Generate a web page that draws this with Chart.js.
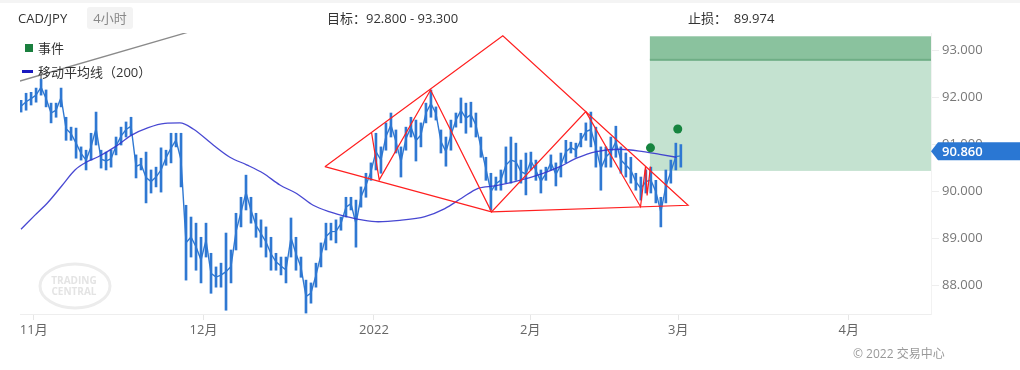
<!DOCTYPE html>
<html>
<head>
<meta charset="utf-8">
<script src="https://cdn.jsdelivr.net/npm/chart.js@4.4.1/dist/chart.umd.min.js"></script>
<style>
  body { margin: 0; background: #fff; font-family: "Open Sans", "Noto Sans CJK SC", sans-serif; }
  #wrap { position: relative; width: 1020px; height: 370px; overflow: hidden; }
  #topband { position: absolute; left: 0; top: 0; width: 1020px; height: 3px; background: #f4f4f4; }
  .txt { position: absolute; font-size: 13px; color: #333; white-space: nowrap; line-height: 16px; }
  #period { position: absolute; left: 87px; top: 7px; width: 46px; height: 22px; background: #f3f3f3;
            border-radius: 3px; color: #888; font-size: 13px; line-height: 22px; text-align: center; }
  .sq { position: absolute; left: 25px; top: 44px; width: 8px; height: 8px; background: #1a7f3e; }
  .dash { position: absolute; left: 22px; top: 70px; width: 11px; height: 3px; background: #1a1ac0; }
  canvas { position: absolute; left: 0; top: 0; }
</style>
</head>
<body>
<div id="wrap">
  <canvas id="c" width="1020" height="370"></canvas>
  <div id="topband"></div>
  <div class="txt" style="left:18px;top:10px;">CAD/JPY</div>
  <div id="period">4小时</div>
  <div class="txt" style="left:327px;top:10px;">目标：92.800 - 93.300</div>
  <div class="txt" style="left:688px;top:10px;">止损：&nbsp;&nbsp;89.974</div>
  <div class="sq"></div>
  <div class="txt" style="left:38px;top:40px;">事件</div>
  <div class="dash"></div>
  <div class="txt" style="left:38px;top:64px;">移动平均线（200）</div>
  <div class="txt" style="left:853px;top:346px;color:#999;font-size:12px;">© 2022 交易中心</div>
</div>
<script>
// x unit = trading days counted from 1 Nov 2021
const monthTicks = [0, 22.7, 45.5, 66.4, 86.2, 109];
const monthLabels = ['11月', '12月', '2022', '2月', '3月', '4月'];
const priceTicks = [88, 89, 90, 91, 92, 93];

// 4h price ranges, sampled about every 4 bars
const sampleStartDay = -1.7;
const sampleStepDay = 0.6685;
const barHigh = [
  91.94, 92.09, 92.11, 92.20, 92.39, 92.16, 91.88, 91.88, 92.20, 91.58,
  91.37, 91.35, 90.95, 90.88, 91.24, 91.69, 90.88, 90.84, 90.88, 91.16,
  91.37, 91.48, 91.58, 90.78, 90.71, 90.84, 90.46, 90.52, 90.93, 90.88,
  91.24, 91.24, 91.24, 89.71, 89.46, 89.33, 89.03, 89.33, 88.69, 88.40,
  88.48, 89.12, 88.76, 89.54, 89.88, 90.35, 89.88, 89.54, 89.40, 89.25,
  89.03, 88.69, 88.61, 88.61, 89.44, 89.03, 88.61, 88.12, 88.06, 88.48,
  88.91, 89.33, 89.33, 89.40, 89.46, 89.88, 89.88, 89.82, 90.10, 90.39,
  90.61, 91.24, 90.95, 91.46, 91.67, 91.31, 90.95, 91.37, 91.58, 91.52,
  91.46, 91.88, 92.16, 91.80, 91.31, 91.16, 91.52, 91.67, 91.99, 91.88,
  91.90, 91.67, 91.16, 90.73, 90.39, 90.31, 90.46, 90.95, 91.16, 91.03,
  90.67, 90.82, 90.84, 90.67, 90.46, 90.52, 90.78, 90.61, 90.82, 91.09,
  91.05, 91.03, 91.24, 91.46, 91.69, 91.37, 90.95, 90.95, 91.16, 91.39,
  90.95, 90.82, 90.73, 90.39, 90.31, 90.46, 90.52, 90.24, 89.88, 90.46,
  90.67, 91.03, 91.00
];
const barLow = [
  91.69, 91.73, 91.84, 91.90, 92.05, 91.80, 91.46, 91.58, 91.80, 91.09,
  91.09, 90.71, 90.67, 90.46, 90.67, 90.99, 90.50, 90.46, 90.52, 90.78,
  90.99, 91.16, 91.20, 90.29, 90.46, 89.76, 89.97, 90.10, 89.99, 90.56,
  90.61, 90.95, 90.10, 88.12, 88.61, 88.33, 88.06, 88.61, 87.84, 87.97,
  87.97, 87.48, 88.06, 88.76, 89.25, 89.61, 89.33, 89.03, 88.82, 88.61,
  88.33, 88.33, 88.23, 88.06, 88.61, 88.33, 88.18, 87.42, 87.63, 87.97,
  88.40, 88.76, 88.97, 88.91, 89.18, 89.46, 89.61, 88.82, 89.67, 89.88,
  90.24, 90.46, 90.39, 90.88, 91.16, 90.82, 90.31, 90.88, 91.16, 90.65,
  90.95, 91.46, 91.58, 91.52, 90.82, 90.54, 90.88, 91.37, 91.46, 91.24,
  91.37, 91.16, 90.73, 90.24, 89.61, 90.03, 90.03, 90.18, 90.18, 90.24,
  90.18, 89.93, 90.46, 90.24, 89.97, 90.24, 90.46, 90.12, 90.31, 90.61,
  90.82, 90.73, 90.95, 91.09, 90.95, 90.52, 90.03, 90.52, 90.52, 90.73,
  90.39, 90.31, 90.18, 90.03, 89.82, 89.97, 89.97, 89.76, 89.25, 89.76,
  90.18, 90.46, 90.52
];
const lastPrice = 90.860;

// 200-period moving average
const maDays = [-1.71, 0.16, 1.94, 3.73, 5.51, 7.07, 8.62, 10.86, 13.09, 15.31,
  17.54, 19.55, 21.33, 24.0, 26.23, 28.47, 30.69, 32.92, 35.15, 37.37,
  39.6, 41.84, 43.88, 46.06, 48.96, 52.31, 54.98, 57.21, 59.43, 61.67,
  64.34, 68.12, 70.36, 72.59, 75.26, 78.38, 81.5, 83.73, 85.96];
const maValues = [89.20, 89.50, 89.78, 90.12, 90.46, 90.63, 90.74, 90.95, 91.20, 91.36,
  91.45, 91.46, 91.33, 90.99, 90.73, 90.57, 90.39, 90.14, 89.96, 89.71,
  89.57, 89.47, 89.40, 89.36, 89.39, 89.47, 89.64, 89.86, 90.07, 90.12,
  90.21, 90.39, 90.53, 90.71, 90.85, 90.90, 90.85, 90.79, 90.73];

// pattern outline and zigzag (red)
const outlineDays = [38.93, 62.73, 87.51, 61.22, 38.93];
const outlinePrices = [90.53, 93.31, 89.71, 89.57, 90.53];
const zigzagDays = [45.18, 46.2, 53.07, 61.22, 73.83, 81.15, 81.82, 82.03, 82.48];
const zigzagPrices = [91.25, 90.25, 92.16, 89.57, 91.70, 89.68, 90.54, 89.92, 90.53];

// long trend line (grey)
const trendDays = [-1.85, 30];
const trendPrices = [92.35, 93.82];

// events
const eventDays = [82.48, 86.13];
const eventPrices = [90.93, 91.33];

// target zone
const zoneStartDay = 82.4;
const entryPrice = 90.44;
const targetLow = 92.8;
const targetHigh = 93.3;

const pts = (xs, ys) => xs.map((x, i) => ({ x: x, y: ys[i] }));
const sampleDay = (i) => sampleStartDay + i * sampleStepDay;
const bars = barHigh.map((h, i) => ({ x: sampleDay(i), y: [barLow[i], h] }));
// line through the middle of each range, joins the samples into one path
const mids = barHigh.map((h, i) => ({ x: sampleDay(i), y: (h + barLow[i]) / 2 }));

const FONT = '"Open Sans", "Noto Sans CJK SC", sans-serif';
const BLUE = '#2f78d2';

const extras = {
  id: 'extras',
  beforeDraw(chart) {
    const ctx = chart.ctx;
    // watermark
    ctx.save();
    ctx.strokeStyle = '#ececec';
    ctx.lineWidth = 3;
    ctx.beginPath();
    ctx.ellipse(75, 286, 35, 22, 0, 0, Math.PI * 2);
    ctx.stroke();
    ctx.fillStyle = '#e4e4e4';
    ctx.font = 'bold 10px ' + FONT;
    ctx.textAlign = 'center';
    ctx.fillText('TRADING', 74, 284);
    ctx.fillText('CENTRAL', 74, 295);
    ctx.restore();
  },
  beforeDatasetsDraw(chart) {
    const { ctx, chartArea, scales } = chart;
    const x0 = scales.x.getPixelForValue(zoneStartDay);
    const x1 = chartArea.right;
    const yTop = scales.y.getPixelForValue(targetHigh);
    const yT = scales.y.getPixelForValue(targetLow);
    const yE = scales.y.getPixelForValue(entryPrice);
    ctx.save();
    ctx.fillStyle = '#c4e2d0';
    ctx.fillRect(x0, yT, x1 - x0, yE - yT);
    ctx.fillStyle = '#8ac29e';
    ctx.fillRect(x0, yTop, x1 - x0, yT - yTop);
    ctx.fillStyle = '#6fae86';
    ctx.fillRect(x0, yT - 1, x1 - x0, 2);
    ctx.restore();
  },
  afterDraw(chart) {
    const { ctx, chartArea, scales } = chart;
    const y = scales.y.getPixelForValue(lastPrice);
    const r = chartArea.right;
    ctx.save();
    ctx.fillStyle = '#2a77d3';
    ctx.beginPath();
    ctx.moveTo(r, y);
    ctx.lineTo(r + 7, y - 9);
    ctx.lineTo(1020, y - 9);
    ctx.lineTo(1020, y + 9);
    ctx.lineTo(r + 7, y + 9);
    ctx.closePath();
    ctx.fill();
    ctx.fillStyle = '#fff';
    ctx.font = '600 13px ' + FONT;
    ctx.textBaseline = 'middle';
    ctx.fillText(lastPrice.toFixed(3), r + 11, y + 1);
    ctx.restore();
  }
};

new Chart(document.getElementById('c'), {
  type: 'bar',
  data: {
    datasets: [
      { type: 'line', data: pts(eventDays, eventPrices), showLine: false, pointRadius: 4.5,
        pointBackgroundColor: '#16843f', pointBorderWidth: 0, order: 1 },
      { type: 'line', data: pts(outlineDays, outlinePrices), borderColor: '#ff1f1f', borderWidth: 1.2,
        pointRadius: 0, order: 2 },
      { type: 'line', data: pts(zigzagDays, zigzagPrices), borderColor: '#ff1f1f', borderWidth: 1.2,
        pointRadius: 0, order: 2 },
      { type: 'line', data: pts(trendDays, trendPrices), borderColor: '#8a8a8a', borderWidth: 1.3,
        pointRadius: 0, order: 3 },
      { type: 'line', data: pts(maDays, maValues), borderColor: 'rgba(52,52,205,0.9)', borderWidth: 1.3,
        pointRadius: 0, cubicInterpolationMode: 'monotone', order: 4 },
      { type: 'line', data: mids, borderColor: BLUE, borderWidth: 1.4, pointRadius: 0, order: 5 },
      { data: bars, backgroundColor: BLUE, borderWidth: 0, barThickness: 2, grouped: false, order: 6 }
    ]
  },
  options: {
    responsive: false,
    animation: false,
    layout: { padding: { left: 20, top: 33, right: 0, bottom: 0 } },
    plugins: { legend: { display: false }, tooltip: { enabled: false } },
    scales: {
      x: {
        type: 'linear', min: -1.845, max: 120, offset: false,
        afterBuildTicks: (axis) => { axis.ticks = monthTicks.map(v => ({ value: v })); },
        afterFit: (axis) => { axis.height = 56; },
        ticks: { callback: (v, i) => monthLabels[i], color: '#666', font: { family: FONT, size: 13 },
                 padding: 2, maxRotation: 0, autoSkip: false },
        grid: { offset: false, drawOnChartArea: false, tickLength: 6, color: '#e6e6e6' },
        border: { color: '#eeeeee' }
      },
      y: {
        position: 'right', min: 87.4, max: 93.37,
        afterBuildTicks: (axis) => { axis.ticks = priceTicks.map(v => ({ value: v })); },
        afterFit: (axis) => { axis.width = 89; },
        ticks: { callback: (v) => v.toFixed(3), color: '#777', font: { family: FONT, size: 13 }, padding: 3 },
        grid: { drawOnChartArea: false, tickLength: 8, color: '#eeeeee' },
        border: { color: '#f2f2f2' }
      }
    }
  },
  plugins: [extras]
});
</script>
</body>
</html>
